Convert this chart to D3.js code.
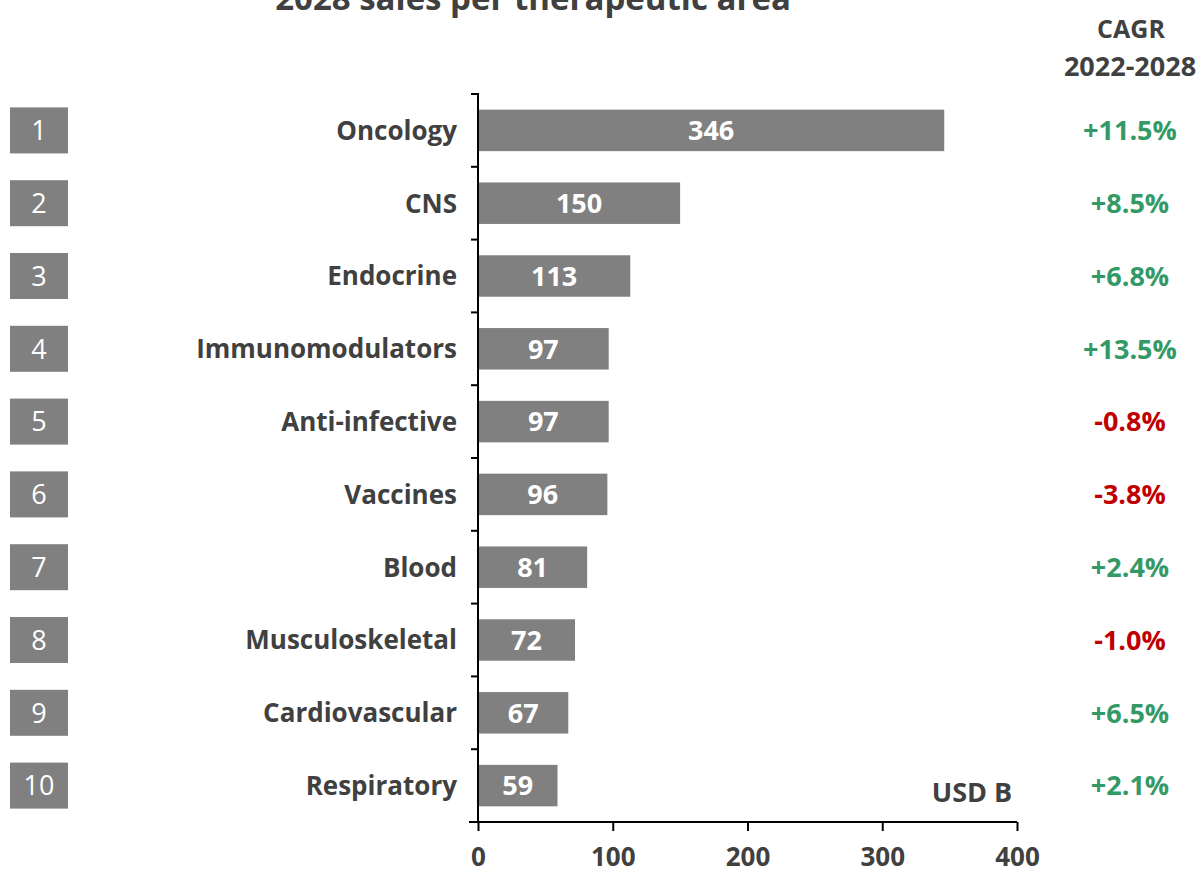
<!DOCTYPE html>
<html>
<head>
<meta charset="utf-8">
<script src="https://cdn.jsdelivr.net/npm/d3@7"></script>
<style>
  body { margin: 0; background: #fff; }
  svg { display: block; font-family: "Open Sans", sans-serif; }
</style>
</head>
<body>
<svg width="1203" height="873"></svg>
<script>
var categories = ["Oncology", "CNS", "Endocrine", "Immunomodulators", "Anti-infective",
    "Vaccines", "Blood", "Musculoskeletal", "Cardiovascular", "Respiratory"];
var ranks = [1, 2, 3, 4, 5, 6, 7, 8, 9, 10];
var sales = [346, 150, 113, 97, 97, 96, 81, 72, 67, 59];
var cagr = [11.5, 8.5, 6.8, 13.5, -0.8, -3.8, 2.4, -1.0, 6.5, 2.1];
var xTicks = [0, 100, 200, 300, 400];

var textColor = "#404040";
var svg = d3.select("svg");

// scales
var x = d3.scaleLinear().domain([0, 400]).range([478, 1017]);
var y = d3.scaleBand().domain(categories).range([94, 822]).paddingInner(0.43).paddingOuter(0.215);
var yBand = d3.scaleBand().domain(categories).range([94, 822]);

var data = categories.map(function (c, i) {
    return { cat: c, rank: ranks[i], value: sales[i], cagr: cagr[i] };
});

function mid(d) { return y(d.cat) + y.bandwidth() / 2; }

// title (cut off at top like the original)
svg.append("text")
    .attr("x", 533).attr("y", 10)
    .attr("text-anchor", "middle")
    .attr("font-size", 33).attr("font-weight", "bold")
    .attr("fill", textColor)
    .text("2028 sales per therapeutic area");

// bars
svg.selectAll(".bar").data(data).enter().append("rect")
    .attr("x", x(0))
    .attr("y", function (d) { return y(d.cat); })
    .attr("width", function (d) { return x(d.value) - x(0); })
    .attr("height", y.bandwidth())
    .attr("fill", "#808080");

svg.selectAll(".val").data(data).enter().append("text")
    .attr("x", function (d) { return (x(0) + x(d.value)) / 2; })
    .attr("y", mid)
    .attr("dy", "0.36em")
    .attr("text-anchor", "middle")
    .attr("font-size", 27).attr("font-weight", "bold")
    .attr("fill", "#fff")
    .text(function (d) { return d.value; });

// y axis with ticks at category boundaries
var yAxisG = svg.append("g");
yAxisG.append("line")
    .attr("x1", x(0)).attr("x2", x(0))
    .attr("y1", 93).attr("y2", 822)
    .attr("stroke", "#000").attr("stroke-width", 2);
yAxisG.selectAll(".yt").data(categories).enter().append("line")
    .attr("x1", x(0) - 7).attr("x2", x(0))
    .attr("y1", function (d) { return yBand(d); })
    .attr("y2", function (d) { return yBand(d); })
    .attr("stroke", "#000").attr("stroke-width", 2);

// category labels
svg.selectAll(".cat").data(data).enter().append("text")
    .attr("x", 457)
    .attr("y", mid)
    .attr("dy", "0.36em")
    .attr("text-anchor", "end")
    .attr("font-size", 26).attr("font-weight", "bold")
    .attr("fill", textColor)
    .text(function (d) { return d.cat; });

// x axis
var xAxis = d3.axisBottom(x).tickValues(xTicks).tickSize(9);
var xg = svg.append("g")
    .attr("transform", "translate(0,822)")
    .call(xAxis);
xg.select(".domain").attr("stroke", "#000").attr("stroke-width", 2)
    .attr("d", "M" + (x(0) - 9) + ",0H" + x(400));
xg.selectAll(".tick line").attr("stroke", "#000").attr("stroke-width", 2);
xg.selectAll(".tick text")
    .attr("y", 37).attr("dy", "0.27em")
    .attr("font-family", "Open Sans, sans-serif")
    .attr("font-size", 26).attr("font-weight", "bold")
    .attr("fill", textColor);

// unit label
svg.append("text")
    .attr("x", 972).attr("y", 792)
    .attr("dy", "0.36em")
    .attr("text-anchor", "middle")
    .attr("font-size", 27).attr("font-weight", "bold")
    .attr("fill", textColor)
    .text("USD B");

// rank boxes
svg.selectAll(".rankbox").data(data).enter().append("rect")
    .attr("x", 10)
    .attr("y", function (d) { return mid(d) - 23; })
    .attr("width", 58).attr("height", 46)
    .attr("fill", "#808080");
svg.selectAll(".rank").data(data).enter().append("text")
    .attr("x", 39)
    .attr("y", mid)
    .attr("dy", "0.36em")
    .attr("text-anchor", "middle")
    .attr("font-size", 27)
    .attr("fill", "#fff")
    .text(function (d) { return d.rank; });

// CAGR column
svg.append("text")
    .attr("x", 1131).attr("y", 29).attr("dy", "0.36em")
    .attr("text-anchor", "middle")
    .attr("font-size", 25).attr("font-weight", "bold")
    .attr("fill", textColor)
    .text("CAGR");
svg.append("text")
    .attr("x", 1130).attr("y", 66).attr("dy", "0.36em")
    .attr("text-anchor", "middle")
    .attr("font-size", 27).attr("font-weight", "bold")
    .attr("fill", textColor)
    .text("2022-2028");

svg.selectAll(".cagr").data(data).enter().append("text")
    .attr("x", 1130)
    .attr("y", mid)
    .attr("dy", "0.36em")
    .attr("text-anchor", "middle")
    .attr("font-size", 27).attr("font-weight", "bold")
    .attr("fill", function (d) { return d.cagr < 0 ? "#c00000" : "#339966"; })
    .text(function (d) { return (d.cagr > 0 ? "+" : "") + d.cagr.toFixed(1) + "%"; });
</script>
</body>
</html>
